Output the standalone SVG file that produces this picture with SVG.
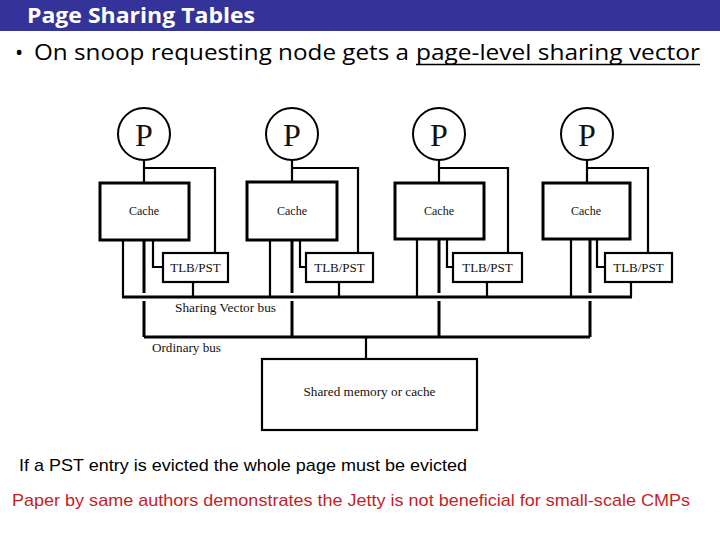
<svg xmlns="http://www.w3.org/2000/svg" width="720" height="540" viewBox="0 0 720 540">
<style>
.hdr{font-family:"Open Sans","Liberation Sans",sans-serif;font-weight:bold;font-size:21px;fill:#fff}
.bul{font-family:"Open Sans","Liberation Sans",sans-serif;font-size:22px;fill:#000}
.foot{font-family:"Liberation Sans",Arial,sans-serif;font-size:17px}
.ser{font-family:"Liberation Serif","Times New Roman",serif;fill:#111}
.p{font-size:32px;text-anchor:middle}
.cache{font-size:12px;text-anchor:middle}
.tlb{font-size:13px;text-anchor:middle}
.lbl{font-size:12px}
.circ{fill:#fff;stroke:#000;stroke-width:2}
.cbox{fill:#fff;stroke:#000;stroke-width:3}
.tbox{fill:#fff;stroke:#000;stroke-width:2.2}
.w{fill:none;stroke:#000;stroke-width:2.2}
.thick{fill:none;stroke:#000;stroke-width:3}
.bus{fill:none;stroke:#000;stroke-width:3.2}
</style>
<rect x="0" y="0" width="720" height="31" fill="#333399"/>
<text class="hdr" x="27" y="23" textLength="228" lengthAdjust="spacingAndGlyphs">Page Sharing Tables</text>
<text class="bul" x="15" y="60" font-size="24">•</text>
<text class="bul" x="34" y="60" textLength="375" lengthAdjust="spacingAndGlyphs">On snoop requesting node gets a</text>
<text class="bul" x="416" y="60" textLength="284" lengthAdjust="spacingAndGlyphs">page-level sharing vector</text>
<line x1="416" y1="64.5" x2="700" y2="64.5" stroke="#000" stroke-width="1.5"/>

<g id="connectors">
  <!-- node 1 -->
  <path class="w" d="M144 160 V183 M144 168 H215 V253"/>
  <path class="w" d="M123 240 V297 M153 240 V267 H163 M193 282 V297"/>
  <path class="thick" d="M144 240 V293 M144 301 V337"/>
  <!-- node 2 -->
  <path class="w" d="M292 160 V182 M292 168 H358 V253"/>
  <path class="w" d="M270 240 V297 M300 240 V267 H306 M339 282 V297"/>
  <path class="thick" d="M292 240 V293 M292 301 V337"/>
  <!-- node 3 -->
  <path class="w" d="M439 160 V183 M439 168 H508 V253"/>
  <path class="w" d="M417 239 V297 M447 239 V267 H453 M487 282 V297"/>
  <path class="thick" d="M439 239 V293 M439 301 V337"/>
  <!-- node 4 -->
  <path class="w" d="M587 160 V183 M587 168 H648 V253"/>
  <path class="w" d="M571 239 V297 M597 239 V267 H605 M631 282 V297"/>
  <path class="thick" d="M590 239 V293 M590 301 V337"/>
  <!-- buses -->
  <path class="bus" d="M122 297 H632"/>
  <path class="bus" d="M144 337 H590"/>
  <path class="w" d="M366 337 V359"/>
</g>

<g id="p1">
  <circle class="circ" cx="144" cy="134" r="26"/>
  <text class="ser p" x="144" y="146">P</text>
</g>
<g id="cache1">
  <rect class="cbox" x="100" y="183" width="89" height="57"/>
  <text class="ser cache" x="144" y="215">Cache</text>
</g>
<g id="tlb1">
  <rect class="tbox" x="163" y="253" width="65" height="29"/>
  <text class="ser tlb" x="195.5" y="272">TLB/PST</text>
</g>

<g id="p2">
  <circle class="circ" cx="292" cy="134" r="26"/>
  <text class="ser p" x="292" y="146">P</text>
</g>
<g id="cache2">
  <rect class="cbox" x="247" y="182" width="90" height="58"/>
  <text class="ser cache" x="292" y="215">Cache</text>
</g>
<g id="tlb2">
  <rect class="tbox" x="306" y="253" width="67" height="29"/>
  <text class="ser tlb" x="339.5" y="272">TLB/PST</text>
</g>

<g id="p3">
  <circle class="circ" cx="439" cy="134" r="26"/>
  <text class="ser p" x="439" y="146">P</text>
</g>
<g id="cache3">
  <rect class="cbox" x="395" y="183" width="89" height="56"/>
  <text class="ser cache" x="439" y="215">Cache</text>
</g>
<g id="tlb3">
  <rect class="tbox" x="453" y="253" width="69" height="29"/>
  <text class="ser tlb" x="487.5" y="272">TLB/PST</text>
</g>

<g id="p4">
  <circle class="circ" cx="587" cy="134" r="26"/>
  <text class="ser p" x="587" y="146">P</text>
</g>
<g id="cache4">
  <rect class="cbox" x="543" y="183" width="87" height="56"/>
  <text class="ser cache" x="586" y="215">Cache</text>
</g>
<g id="tlb4">
  <rect class="tbox" x="605" y="253" width="67" height="29"/>
  <text class="ser tlb" x="638.5" y="272">TLB/PST</text>
</g>

<g id="shared">
  <rect class="tbox" x="262" y="359" width="215" height="71"/>
  <text class="ser lbl" x="369.5" y="396" text-anchor="middle" textLength="132" lengthAdjust="spacingAndGlyphs">Shared memory or cache</text>
</g>

<text class="ser lbl" x="175" y="312" textLength="101" lengthAdjust="spacingAndGlyphs">Sharing Vector bus</text>
<text class="ser lbl" x="152" y="352" textLength="69" lengthAdjust="spacingAndGlyphs">Ordinary bus</text>

<text class="foot" x="19" y="471" fill="#000" textLength="448" lengthAdjust="spacingAndGlyphs">If a PST entry is evicted the whole page must be evicted</text>
<text class="foot" x="12" y="506" fill="#c41e24" textLength="678" lengthAdjust="spacingAndGlyphs">Paper by same authors demonstrates the Jetty is not beneficial for small-scale CMPs</text>
</svg>
